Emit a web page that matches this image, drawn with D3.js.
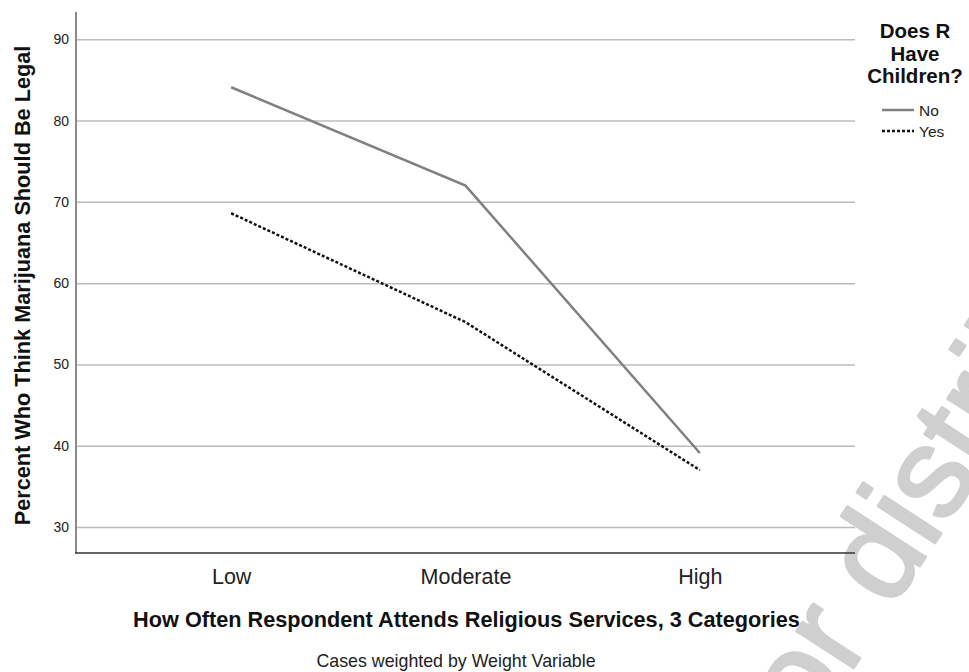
<!DOCTYPE html>
<html>
<head>
<meta charset="utf-8">
<script src="https://cdn.jsdelivr.net/npm/d3@7"></script>
<style>
  html, body { margin: 0; padding: 0; background: #fff; }
  svg { display: block; font-family: "Liberation Sans", Arial, sans-serif; }
</style>
</head>
<body>
<svg id="chart" width="969" height="672"></svg>
<script>
const categories = ["Low", "Moderate", "High"];
const seriesNames = ["No", "Yes"];
const valuesNo = [84.1, 72.0, 39.1];
const valuesYes = [68.6, 55.2, 37.0];
const yTicks = [30, 40, 50, 60, 70, 80, 90];
const yDomain = [26.8, 93.36];
const xTitle = "How Often Respondent Attends Religious Services, 3 Categories";
const yTitle = "Percent Who Think Marijuana Should Be Legal";
const footnote = "Cases weighted by Weight Variable";
const legendTitle = ["Does R", "Have", "Children?"];
const watermark = "or distribution";

const svg = d3.select("#chart");
const plot = { left: 76, right: 855, top: 12, bottom: 553 };

// watermark
svg.append("text")
  .attr("transform", "translate(810,735) rotate(-57)")
  .attr("font-size", 128)
  .attr("fill", "#cfcfcf")
  .attr("stroke", "#cfcfcf").attr("stroke-width", 3).attr("stroke-linejoin", "round")
  .text(watermark);

const x = d3.scalePoint().domain(categories).range([plot.left, plot.right]).padding(0.662);
const y = d3.scaleLinear().domain(yDomain).range([plot.bottom, plot.top]);

// gridlines
const yAxis = d3.axisLeft(y).tickValues(yTicks).tickSize(-(plot.right - plot.left)).tickPadding(7).tickFormat(d3.format("d"));
const gY = svg.append("g").attr("transform", `translate(${plot.left},0)`).call(yAxis);
gY.select(".domain").remove();
gY.selectAll(".tick line").attr("stroke", "#bcbcbc").attr("stroke-width", 1.5);
gY.selectAll(".tick text").attr("font-size", 14).attr("fill", "#222").attr("font-family", "'Liberation Sans', Arial, sans-serif");

// y axis line
svg.append("line")
  .attr("x1", plot.left).attr("x2", plot.left)
  .attr("y1", plot.top).attr("y2", plot.bottom)
  .attr("stroke", "#8a8a8a").attr("stroke-width", 2);

// x axis
const xAxis = d3.axisBottom(x).tickSize(0).tickPadding(16);
const gX = svg.append("g").attr("transform", `translate(0,${plot.bottom})`).call(xAxis);
gX.select(".domain").remove();
gX.selectAll(".tick text").attr("font-size", 21.5).attr("fill", "#222").attr("font-family", "'Liberation Sans', Arial, sans-serif");
svg.append("line")
  .attr("x1", plot.left - 1).attr("x2", plot.right)
  .attr("y1", plot.bottom).attr("y2", plot.bottom)
  .attr("stroke", "#333").attr("stroke-width", 1.5);

// lines
const line = d3.line().x((d, i) => x(categories[i])).y(d => y(d));
svg.append("path").datum(valuesNo)
  .attr("d", line).attr("fill", "none")
  .attr("stroke", "#808080").attr("stroke-width", 2.5);
svg.append("path").datum(valuesYes)
  .attr("d", line).attr("fill", "none")
  .attr("stroke", "#111").attr("stroke-width", 2.5)
  .attr("stroke-dasharray", "3,2");

// axis titles
svg.append("text")
  .attr("x", (plot.left + plot.right) / 2 + 1).attr("y", 627)
  .attr("text-anchor", "middle").attr("font-weight", "bold").attr("font-size", 21.7)
  .attr("fill", "#111").text(xTitle);
svg.append("text")
  .attr("transform", `translate(30,${(plot.top + plot.bottom) / 2 + 3}) rotate(-90)`)
  .attr("text-anchor", "middle").attr("font-weight", "bold").attr("font-size", 21.7)
  .attr("fill", "#111").text(yTitle);
svg.append("text")
  .attr("x", 456).attr("y", 667)
  .attr("text-anchor", "middle").attr("font-size", 17.8)
  .attr("fill", "#222").text(footnote);

// legend
const leg = svg.append("g");
leg.selectAll("text.lt").data(legendTitle).join("text")
  .attr("class", "lt")
  .attr("x", 915).attr("y", (d, i) => 38 + i * 22.5)
  .attr("text-anchor", "middle").attr("font-weight", "bold").attr("font-size", 20.5)
  .attr("fill", "#111").text(d => d);
const legItems = [
  { name: seriesNames[0], stroke: "#808080", dash: null },
  { name: seriesNames[1], stroke: "#111", dash: "3,2" }
];
legItems.forEach((it, i) => {
  const yy = 110 + i * 21;
  leg.append("line")
    .attr("x1", 882).attr("x2", 914).attr("y1", yy).attr("y2", yy)
    .attr("stroke", it.stroke).attr("stroke-width", 2.5)
    .attr("stroke-dasharray", it.dash);
  leg.append("text")
    .attr("x", 919).attr("y", yy).attr("dy", "0.36em")
    .attr("font-size", 15.5).attr("fill", "#222").text(it.name);
});
</script>
</body>
</html>
